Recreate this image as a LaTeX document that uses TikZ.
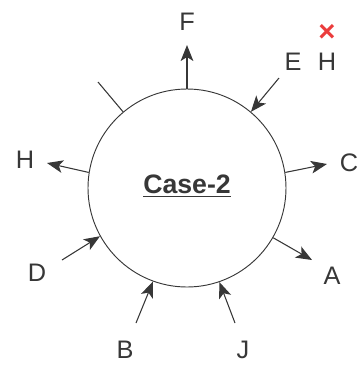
\documentclass[tikz,border=0pt]{standalone}
\usepackage{fontspec}
\setmainfont{Liberation Sans}
\usetikzlibrary{arrows.meta}
\definecolor{inkgray}{RGB}{55,55,55}
\definecolor{crossred}{RGB}{235,60,60}
\begin{document}
\begin{tikzpicture}[x=0.75pt, y=-0.75pt,
        flow/.style={draw=inkgray, line width=0.8pt, -{Stealth[length=12pt, width=9.5pt, inset=3pt]}},
        tick/.style={draw=inkgray, line width=0.8pt},
        port/.style={text=inkgray, font=\fontsize{19}{22}\selectfont, inner sep=0pt}]
        \useasboundingbox (0,0) rectangle (358,365);
        \node[circle, draw=inkgray, line width=0.7pt, minimum size=148.5pt, inner sep=0pt] (case) at (187,188) {};
        \node[text=inkgray, font=\bfseries\fontsize{20}{24}\selectfont] (title) at (187,186) {\underline{Case-2}};
        % outgoing
        \coordinate (fEnd) at (187,45);
        \coordinate (hEnd) at (47,163);
        \coordinate (cEnd) at (327,164);
        \coordinate (aEnd) at (312,260);
        \draw[flow] (case.90) -- (fEnd);
        \draw[flow] (case.171) -- (hEnd);
        \draw[flow] (case.9) -- (cEnd);
        \draw[flow] (case.-30) -- (aEnd);
        % incoming
        \coordinate (eStart) at (279,78);
        \coordinate (dStart) at (62,260);
        \coordinate (bStart) at (136,323);
        \coordinate (jStart) at (235,323);
        \draw[flow] (eStart) -- (case.50);
        \draw[flow] (dStart) -- (case.209);
        \draw[flow] (bStart) -- (case.250);
        \draw[flow] (jStart) -- (case.289);
        % cut port
        \coordinate (tickEnd) at (98,82);
        \draw[tick] (case.130) -- (tickEnd);
        % labels
        \node[port] (labF) at (187,22) {F};
        \node[port] (labE) at (293,62) {E};
        \node[port] (labHr) at (327,62) {H};
        \node[text=crossred, font=\bfseries\fontsize{22}{24}\selectfont, inner sep=0pt] (cross) at (327,33) {×};
        \node[port] (labHl) at (25,160) {H};
        \node[port] (labC) at (349,163) {C};
        \node[port] (labA) at (332,276) {A};
        \node[port] (labD) at (37,273) {D};
        \node[port] (labB) at (125,350) {B};
        \node[port] (labJ) at (243,350) {J};
\end{tikzpicture}
\end{document}
